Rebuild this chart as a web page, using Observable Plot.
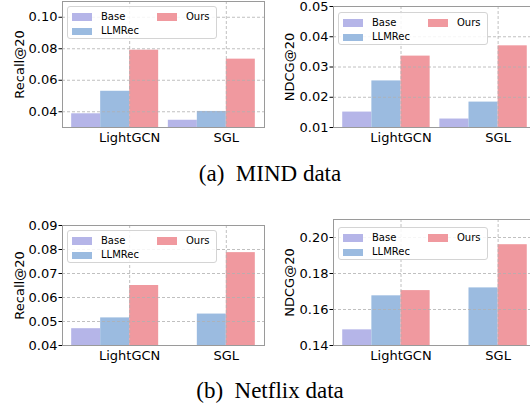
<!DOCTYPE html>
<html>
<head>
<meta charset="utf-8">
<script src="https://cdn.jsdelivr.net/npm/d3@7"></script>
<script src="https://cdn.jsdelivr.net/npm/@observablehq/plot@0.6"></script>
<style>
  html, body { margin: 0; padding: 0; background: #fff; }
  #root { position: relative; width: 530px; height: 406px; overflow: hidden; }
  .panel { position: absolute; }
  .legend { position: absolute; width: 150px; height: 33px; box-sizing: border-box;
            border: 1px solid #d4d4d4; border-radius: 3px; background: rgba(255,255,255,0.85);
            font-family: "DejaVu Sans", sans-serif; font-size: 10px; color: #000; }
  .legend .patch { position: absolute; width: 20px; height: 7.5px; }
  .legend .lab { position: absolute; line-height: 10px; }
  .caption { position: absolute; left: 0; width: 540px; text-align: center; white-space: pre;
             font-family: "Liberation Serif", "DejaVu Serif", serif; font-size: 23px; line-height: 23px; color: #000; }
</style>
</head>
<body>
<div id="root"></div>
<script>
// ---- data ----
const groups = ["LightGCN", "SGL"];
const methods = ["Base", "LLMRec", "Ours"];
const colors = ["#b5b5e8", "#9bbbe0", "#f0999f"];

// rows: methods (Base, LLMRec, Ours); columns: groups (LightGCN, SGL)
const mindRecall = [[0.0387, 0.0346], [0.0530, 0.0402], [0.0791, 0.0734]];
const mindNdcg = [[0.0151, 0.0128], [0.0254, 0.0184], [0.0336, 0.0370]];
// Netflix Base on SGL lies below the visible axis range (not shown)
const netflixRecall = [[0.0470, null], [0.0515, 0.0531], [0.0650, 0.0787]];
const netflixNdcg = [[0.1487, null], [0.1676, 0.1720], [0.1705, 0.1960]];

const recallMindTicks = [0.04, 0.06, 0.08, 0.10];
const ndcgMindTicks = [0.01, 0.02, 0.03, 0.04, 0.05];
const recallNetflixTicks = [0.04, 0.05, 0.06, 0.07, 0.08, 0.09];
const ndcgNetflixTicks = [0.14, 0.16, 0.18, 0.20];

const barW = 0.3;
const xDomain = [-0.695, 1.395];

function panel(cfg) {
  const rows = [];
  methods.forEach((m, k) => groups.forEach((g, i) => {
    const v = cfg.values[k][i];
    if (v != null) rows.push({method: m, k, pos: i, value: v});
  }));
  const grid = {stroke: "#b0b0b0", strokeOpacity: 1, strokeWidth: 0.8, strokeDasharray: "3,2"};
  const svg = Plot.plot({
    width: cfg.width, height: cfg.height,
    marginLeft: cfg.ml, marginRight: cfg.mr, marginTop: cfg.mt, marginBottom: cfg.mb,
    style: {fontFamily: "DejaVu Sans", fontSize: "13px", background: "transparent", color: "#000", overflow: "visible"},
    x: {domain: xDomain},
    y: {domain: cfg.yDomain},
    color: {domain: methods, range: colors},
    marks: [
      Plot.rectY(rows, {
        x1: d => d.pos + (d.k - 2) * barW,
        x2: d => d.pos + (d.k - 1) * barW,
        y1: cfg.yDomain[0], y2: "value", fill: "method"
      }),
      Plot.gridY(cfg.yTicks, grid),
      Plot.gridX([0, 1], grid),
      Plot.frame({stroke: "#9a9a9a", strokeWidth: 1}),
      Plot.axisY(cfg.yTicks, {tickFormat: ".2f", tickSize: 3.5, tickPadding: 1.5, fontSize: 13,
        label: cfg.yLabel, labelAnchor: "center", labelOffset: cfg.labelOffset, labelArrow: "none"}),
      Plot.axisX([0, 1], {tickFormat: i => groups[i], tickSize: 0, tickPadding: 5, fontSize: 13, label: null})
    ]
  });
  svg.classList.add("panel");
  svg.style.left = cfg.left + "px";
  svg.style.top = cfg.top + "px";
  return svg;
}

function legend(left, top) {
  const div = document.createElement("div");
  div.className = "legend";
  div.style.left = left + "px";
  div.style.top = top + "px";
  const pos = [[4, 10], [4, 24.5], [89, 10]];
  methods.forEach((m, k) => {
    const p = document.createElement("div");
    p.className = "patch";
    p.style.background = colors[k];
    p.style.left = pos[k][0] + "px";
    p.style.top = (pos[k][1] - 4) + "px";
    div.appendChild(p);
    const t = document.createElement("div");
    t.className = "lab";
    t.textContent = m;
    t.style.left = (pos[k][0] + 29) + "px";
    t.style.top = (pos[k][1] - 5.5) + "px";
    div.appendChild(t);
  });
  return div;
}

function caption(text, top) {
  const d = document.createElement("div");
  d.className = "caption";
  d.textContent = text;
  d.style.top = top + "px";
  return d;
}

const root = document.getElementById("root");
root.appendChild(panel({values: mindRecall, yDomain: [0.03, 0.11], yTicks: recallMindTicks, yLabel: "Recall@20",
  left: 0, top: 0, width: 265, height: 150, ml: 62, mr: 1, mt: 1, mb: 23, labelOffset: 48}));
root.appendChild(panel({values: mindNdcg, yDomain: [0.01, 0.05], yTicks: ndcgMindTicks, yLabel: "NDCG@20",
  left: 265, top: 0, width: 272, height: 150, ml: 68, mr: 1, mt: 6, mb: 23, labelOffset: 49}));
root.appendChild(panel({values: netflixRecall, yDomain: [0.04, 0.09], yTicks: recallNetflixTicks, yLabel: "Recall@20",
  left: 0, top: 200, width: 265, height: 170, ml: 62, mr: 1, mt: 25, mb: 25, labelOffset: 48}));
root.appendChild(panel({values: netflixNdcg, yDomain: [0.14, 0.21], yTicks: ndcgNetflixTicks, yLabel: "NDCG@20",
  left: 265, top: 200, width: 272, height: 170, ml: 68, mr: 1, mt: 19, mb: 25, labelOffset: 49}));

root.appendChild(legend(67, 6));
root.appendChild(legend(338, 12));
root.appendChild(legend(67, 230));
root.appendChild(legend(338, 227));

root.appendChild(caption("(a)  MIND data", 161.5));
root.appendChild(caption("(b)  Netflix data", 379));
</script>
</body>
</html>
